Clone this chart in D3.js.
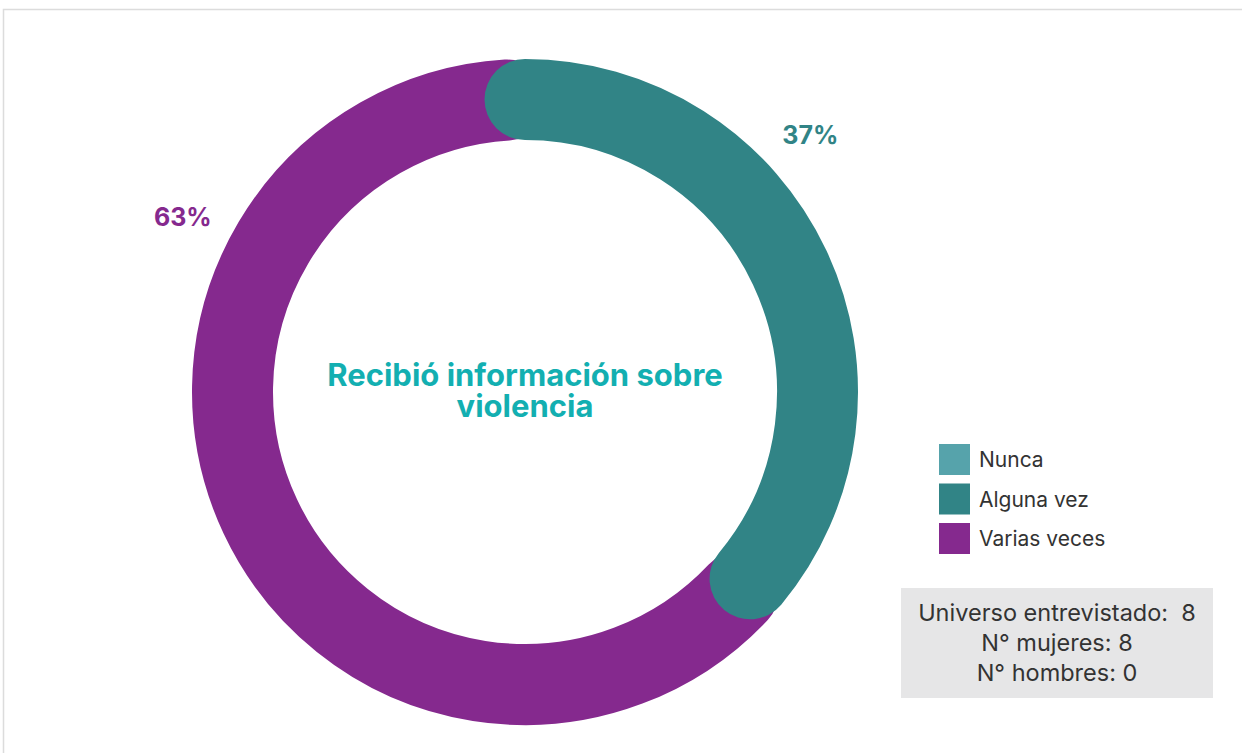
<!DOCTYPE html>
<html>
<head>
<meta charset="utf-8">
<script src="https://cdn.jsdelivr.net/npm/d3@7"></script>
<style>
  body { margin: 0; background: #fff; }
  svg { display: block; font-family: Inter, 'Noto Sans', sans-serif; }
</style>
</head>
<body>
<svg id="svg"></svg>
<script>
// data
const categories = ['Nunca', 'Alguna vez', 'Varias veces']
const values = [0, 37, 63]
const colors = ['#56a3ab', '#318486', '#85298e']
const title = ['Recibió información sobre', 'violencia']
const infoLines = ['Universo entrevistado:  8', 'N° mujeres: 8', 'N° hombres: 0']

const w = 1242
const h = 753
const cx = 525
const cy = 392
const outerR = 333
const innerR = 252
const midR = (outerR + innerR) / 2
const thick = outerR - innerR
const labelR = 384
// angle (degrees) where each percent label sits
const labelAngle = [0, 48, 297]
// the round cap eats a bit of the segment end
const endTrim = 3.5 * Math.PI / 180

const svg = d3.select('#svg').attr('width', w).attr('height', h)

// light frame
svg.append('rect')
  .attr('x', 3.5).attr('y', 9.5)
  .attr('width', w + 10).attr('height', h + 10)
  .attr('fill', 'none').attr('stroke', '#dcdcdc').attr('stroke-width', 1.5)

const pie = d3.pie().sort(null).value(d => d)
const arcs = pie(values)

const g = svg.append('g').attr('transform', `translate(${cx},${cy})`)

// ring stroke with round caps, drawn from d3.path
const ringPath = d => {
  const p = d3.path()
  const a0 = d.startAngle - Math.PI / 2
  const a1 = d.endAngle - endTrim - Math.PI / 2
  p.moveTo(midR * Math.cos(a0), midR * Math.sin(a0))
  p.arc(0, 0, midR, a0, a1)
  return p.toString()
}

// bigger slices first so the smaller one lies on top
const order = arcs.map((d, i) => ({ d, i }))
  .filter(o => o.d.value > 0)
  .sort((a, b) => b.d.value - a.d.value)

g.selectAll('path.seg')
  .data(order)
  .enter().append('path')
  .attr('class', 'seg')
  .attr('d', o => ringPath(o.d))
  .attr('fill', 'none')
  .attr('stroke', o => colors[o.i])
  .attr('stroke-width', thick)
  .attr('stroke-linecap', 'round')

// percent labels
g.selectAll('text.pct')
  .data(order)
  .enter().append('text')
  .attr('class', 'pct')
  .attr('x', o => labelR * Math.sin(labelAngle[o.i] * Math.PI / 180))
  .attr('y', o => -labelR * Math.cos(labelAngle[o.i] * Math.PI / 180))
  .attr('dy', '0.35em')
  .attr('text-anchor', 'middle')
  .attr('font-size', 25)
  .attr('font-weight', 700)
  .attr('fill', o => colors[o.i])
  .text(o => o.d.value + '%')

// centre title
g.selectAll('text.title')
  .data(title)
  .enter().append('text')
  .attr('class', 'title')
  .attr('x', 0)
  .attr('y', (d, i) => -6 + i * 31)
  .attr('text-anchor', 'middle')
  .attr('font-size', 31)
  .attr('font-weight', 700)
  .attr('fill', '#13afb1')
  .text(d => d)

// legend
const legend = svg.append('g').attr('transform', 'translate(939,444)')
const item = legend.selectAll('g')
  .data(categories)
  .enter().append('g')
  .attr('transform', (d, i) => `translate(0,${i * 39.5})`)

item.append('rect')
  .attr('width', 31).attr('height', 31)
  .attr('fill', (d, i) => colors[i])

item.append('text')
  .attr('x', 40).attr('y', 16)
  .attr('dy', '0.35em')
  .attr('font-size', 21)
  .attr('fill', '#333')
  .text(d => d)

// info box
const box = svg.append('g').attr('transform', 'translate(901,588)')
box.append('rect')
  .attr('width', 312).attr('height', 110)
  .attr('fill', '#e6e6e7')
box.selectAll('text')
  .data(infoLines)
  .enter().append('text')
  .attr('x', 156)
  .attr('y', (d, i) => 33 + i * 30)
  .attr('text-anchor', 'middle')
  .attr('font-size', 23.5)
  .attr('fill', '#333')
  .style('white-space', 'pre')
  .text(d => d)
</script>
</body>
</html>
